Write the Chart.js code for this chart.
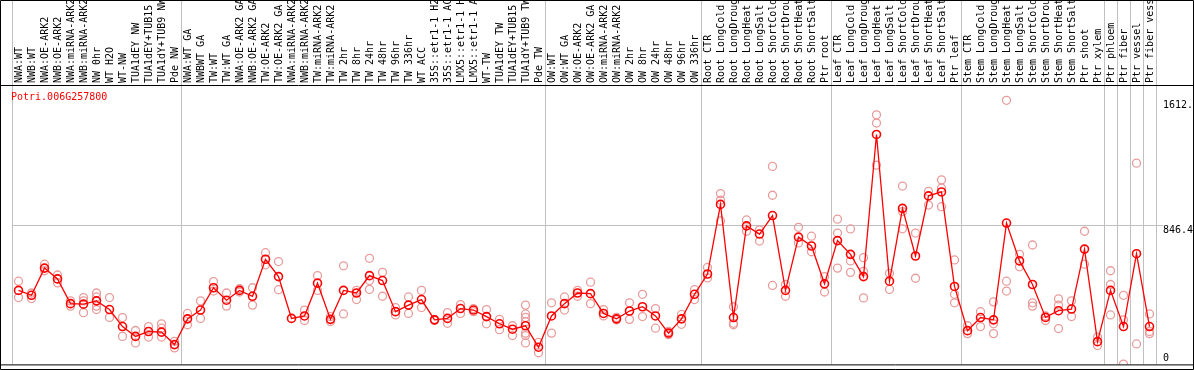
<!DOCTYPE html>
<html>
<head>
<meta charset="utf-8">
<script src="https://cdn.jsdelivr.net/npm/chart.js@4.4.1/dist/chart.umd.min.js"></script>
<style>
  html, body { margin: 0; padding: 0; background: #fff; }
  #wrap { width: 1194px; height: 370px; }
</style>
</head>
<body>
<div id="wrap"><canvas id="exprChart" width="1194" height="370"></canvas></div>
<script>
const geneId = "Potri.006G257800";

const samples = [
  "NWA:WT", "NWB:WT", "NWA:OE-ARK2", "NWB:OE-ARK2", "NWA:miRNA-ARK2", "NWB:miRNA-ARK2",
  "NW 0hr", "WT H2O", "WT-NW", "TUA1dEY NW", "TUA1dEY+TUB15", "TUA1dY+TUB9 NW", "Pde NW",
  "NWA:WT GA", "NWBWT GA", "TW:WT", "TW:WT GA", "NWA:OE-ARK2 GA", "NWB:OE-ARK2 GA",
  "TW:OE-ARK2", "TW:OE-ARK2 GA", "NWA:miRNA-ARK2", "NWB:miRNA-ARK2", "TW:miRNA-ARK2", "TW:miRNA-ARK2",
  "TW 2hr", "TW 8hr", "TW 24hr", "TW 48hr", "TW 96hr", "TW 336hr", "WT ACC",
  "35S::etr1-1 H2", "35S::etr1-1 AC", "LMX5::etr1-1 H", "LMX5::etr1-1 A", "WT-TW",
  "TUA1dEY TW", "TUA1dEY+TUB15", "TUA1dY+TUB9 TW", "Pde TW",
  "OW:WT", "OW:WT GA", "OW:OE-ARK2", "OW:OE-ARK2 GA", "OW:miRNA-ARK2", "OW:miRNA-ARK2",
  "OW 2hr", "OW 8hr", "OW 24hr", "OW 48hr", "OW 96hr", "OW 336hr",
  "Root CTR", "Root LongCold", "Root LongDroug", "Root LongHeat", "Root LongSalt",
  "Root ShortCold", "Root ShortDrou", "Root ShortHeat", "Root ShortSalt", "Ptr root",
  "Leaf CTR", "Leaf LongCold", "Leaf LongDroug", "Leaf LongHeat", "Leaf LongSalt",
  "Leaf ShortCold", "Leaf ShortDrou", "Leaf ShortHeat", "Leaf ShortSalt", "Ptr leaf",
  "Stem CTR", "Stem LongCold", "Stem LongDroug", "Stem LongHeat", "Stem LongSalt",
  "Stem ShortCold", "Stem ShortDrou", "Stem ShortHeat", "Stem ShortSalt",
  "Ptr shoot", "Ptr xylem", "Ptr phloem", "Ptr fiber", "Ptr vessel", "Ptr fiber vess"
];

// mean expression per sample (red line)
const meanExpr = [
  452, 422, 588, 522, 371, 368, 388, 335, 231, 171, 201, 197, 121,
  278, 332, 468, 392, 452, 416, 642, 536, 281, 296, 496, 275,
  452, 436, 542, 512, 322, 362, 396, 272, 281, 341, 332, 292, 248, 215, 236, 105,
  296, 371, 436, 432, 311, 278, 326, 352, 296, 191, 278, 428,
  552, 977, 286, 846, 796, 909, 452, 777, 723, 492,
  756, 672, 536, 1404, 508, 953, 662, 1029, 1053, 476,
  206, 286, 272, 863, 632, 488, 287, 328, 338, 704, 139,
  452, 231, 676, 231
];

// individual replicates (pink circles)
const rep1 = [
  508, 436, 612, 546, 388, 408, 436, 408, 286, 207, 231, 248, 141,
  311, 388, 506, 436, 462, 468, 682, 628, null, 332, 542, 292,
  602, 452, 648, 562, 347, 412, 452, 275, 316, 365, 341, 335, 275, 236, 362, 135,
  376, 412, 452, 502, 335, 287, 376, 428, 341, 201, 305, 456,
  592, 1043, 352, 882, 822, 1209, 488, 837, 783, 536,
  887, 827, 652, 1524, 556, 1089, 802, 1057, 1127, 638,
  236, 322, 382, 1612.8, 672, 729, 296, 400, 388, 813, 167,
  572, 422, 1229, 308
];
const rep2 = [
  408, 402, 572, 498, 356, 388, 412, 287, 171, 131, 167, 221, 101,
  242, 281, 448, 356, 442, 362, 608, 456, null, 268, 452, 262,
  308, 396, 512, 416, 302, 311, 347, 268, 251, 311, 322, 248, 212, 176, 308, 71,
  191, 332, 416, 371, 296, 272, 275, 292, 221, 182, 245, 396,
  528, 1003, 251, 813, 753, 1033, 416, 742, 688, 442,
  802, 632, 568, 1474, 458, 933, 526, 973, 1077, 428,
  188, 231, 248, 508, 596, 376, 268, 362, 292, 612, 115,
  488, 272, 125, 201
];
const rep3 = [
  null, null, null, null, null, 316, 356, null, null, null, null, 167, null,
  null, null, null, null, null, null, null, null, null, null, null, null,
  null, null, 458, null, null, null, null, null, null, null, null, null, null, null, 287, null,
  null, null, null, null, null, null, null, null, null, null, null, null,
  null, 876, 242, null, null, 482, null, null, null, null,
  588, 562, 406, 1217, null, 828, null, null, 963, 376,
  null, null, 188, 448, null, 356, null, 219, null, null, null,
  302, 2, null, 188
];
// further replicates: [sample index, value]
const repExtra = [
  [6, 335], [39, 261], [39, 191], [39, 176], [39, 131]
];

const yMax = 1700;
const yTicks = [0, 846.4, 1612.8];
// gridline indices (left edge of a sample column) that separate experiment groups
const groupEdges = [0, 13, 41, 53, 63, 73, 84, 85, 86, 87];

const monoFont = "'DejaVu Sans Mono', monospace";
const gridGray = "#c0c0c0";
const repPink = "#e89c9c";

function repDataset(values) {
    return {
        data: values,
        showLine: false,
        pointRadius: 4,
        pointBorderWidth: 1.3,
        pointBorderColor: repPink,
        pointBackgroundColor: "rgba(0,0,0,0)",
        order: 2
    };
}

const extraSets = [];
repExtra.forEach(([idx, val]) => {
    let slot = extraSets.find(arr => arr[idx] === null);
    if (!slot) {
        slot = samples.map(() => null);
        extraSets.push(slot);
    }
    slot[idx] = val;
});

function noScalePadding(scale) {
    scale.paddingTop = 0;
    scale.paddingBottom = 0;
    scale.paddingLeft = 0;
    scale.paddingRight = 0;
}

const framePlugin = {
    id: "frame",
    afterDraw(chart) {
        const c = chart.ctx;
        const area = chart.chartArea;
        const yScale = chart.scales.y;
        c.save();
        c.strokeStyle = "#000";
        c.lineWidth = 1;
        c.beginPath();
        c.rect(0.5, 0.5, chart.width - 1, chart.height - 1);
        c.moveTo(0, area.top - 0.5);
        c.lineTo(chart.width, area.top - 0.5);
        c.moveTo(0, area.bottom + 0.5);
        c.lineTo(chart.width, area.bottom + 0.5);
        c.stroke();

        c.font = "10px " + monoFont;
        c.fillStyle = "#ff0000";
        c.textBaseline = "middle";
        c.textAlign = "left";
        c.fillText(geneId, area.left - 1, area.top + 11);

        c.fillStyle = "#000";
        c.textBaseline = "bottom";
        c.fillText("0", yScale.left + 7, yScale.getPixelForValue(0) - 1);
        c.restore();
    }
};

new Chart(document.getElementById("exprChart").getContext("2d"), {
    type: "line",
    data: {
        labels: samples,
        datasets: [
            {
                data: meanExpr,
                borderColor: "#ff0000",
                borderWidth: 1.3,
                tension: 0,
                pointRadius: 4,
                pointBorderWidth: 1.6,
                pointBorderColor: "#ff0000",
                pointBackgroundColor: "rgba(0,0,0,0)",
                order: 0
            },
            repDataset(rep1),
            repDataset(rep2),
            repDataset(rep3),
            ...extraSets.map(repDataset)
        ]
    },
    options: {
        responsive: false,
        animation: false,
        devicePixelRatio: 1,
        layout: { padding: { left: 12, right: 0, top: 0, bottom: 1 } },
        plugins: {
            legend: { display: false },
            tooltip: { enabled: false }
        },
        scales: {
            x: {
                type: "category",
                position: "top",
                offset: true,
                border: { display: false },
                grid: {
                    offset: true,
                    drawTicks: true,
                    tickLength: 86,
                    lineWidth: 1,
                    color: ctx => (ctx.index === undefined || groupEdges.includes(ctx.index)) ? gridGray : "rgba(0,0,0,0)"
                },
                ticks: {
                    autoSkip: false,
                    minRotation: 90,
                    maxRotation: 90,
                    padding: -83,
                    labelOffset: 13,
                    color: "#000",
                    font: { family: monoFont, size: 10 }
                },
                afterFit: scale => { scale.height = 86; noScalePadding(scale); }
            },
            y: {
                position: "right",
                min: 0,
                max: yMax,
                border: { display: false },
                afterBuildTicks: scale => { scale.ticks = yTicks.map(v => ({ value: v })); },
                grid: {
                    drawTicks: true,
                    tickLength: 7,
                    color: ctx => (ctx.tick && ctx.tick.value === 846.4) ? gridGray : "rgba(0,0,0,0)"
                },
                ticks: {
                    align: "start",
                    padding: 0,
                    color: "#000",
                    font: { family: monoFont, size: 10 },
                    callback: v => v === 0 ? "" : String(v)
                },
                afterFit: scale => { scale.width = 38; noScalePadding(scale); }
            }
        }
    },
    plugins: [framePlugin]
});
</script>
</body>
</html>
